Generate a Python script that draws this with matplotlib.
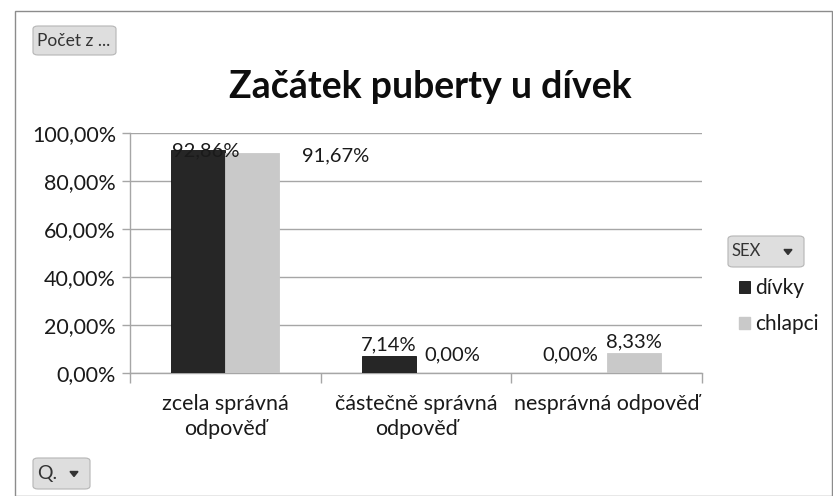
import matplotlib
matplotlib.use("Agg")
import matplotlib.pyplot as plt
from matplotlib.patches import FancyBboxPatch, Rectangle, Patch
import numpy as np

# ---- data ----
categories = ["zcela správná\nodpověď", "částečně správná\nodpověď", "nesprávná odpověď"]
series_names = ["dívky", "chlapci"]
divky = [92.86, 7.14, 0.00]
chlapci = [91.67, 0.00, 8.33]
y_ticks = [0, 20, 40, 60, 80, 100]
y_tick_labels = ["0,00%", "20,00%", "40,00%", "60,00%", "80,00%", "100,00%"]
title = "Začátek puberty u dívek"

# ---- style ----
FONT = ["Lato", "DejaVu Sans"]
plt.rcParams["font.family"] = FONT
DARK = "#262626"
LIGHT = "#c9c9c9"
GRID = "#a6a6a6"
TXT = "#1a1a1a"

W, H = 833, 496
fig = plt.figure(figsize=(W / 100, H / 100), dpi=100)

def fx(px):
    return px / W

def fy(py):
    return 1 - py / H

# outer frame
fig.patches.append(Rectangle((fx(15.5), fy(495.5)), fx(816), (494 - 9.5) / H, transform=fig.transFigure,
                             fill=False, edgecolor="#8c8c8c", linewidth=1.0))

ax = fig.add_axes([fx(130), fy(373), fx(702 - 130), (373 - 133) / H])

x = np.arange(len(categories))
bw = 0.283
b1 = ax.bar(x - bw / 2, divky, bw, color=DARK, edgecolor="#111111", linewidth=0.6, label=series_names[0], zorder=3)
b2 = ax.bar(x + bw / 2, chlapci, bw, color=LIGHT, edgecolor=LIGHT, linewidth=0.6, label=series_names[1], zorder=3)

ax.set_xlim(-0.5, len(categories) - 0.5)
ax.set_ylim(0, 100)
ax.set_yticks(y_ticks)
ax.set_yticklabels(y_tick_labels, fontsize=15.5, color=TXT)
ax.yaxis.grid(True, color=GRID, linewidth=1.0, zorder=0)
ax.set_axisbelow(True)
ax.tick_params(axis="y", length=6, width=1.0, color=GRID, pad=4)

ax.set_xticks(x)
ax.set_xticklabels(categories, fontsize=15.5, color=TXT, linespacing=1.35)
ax.tick_params(axis="x", length=0, pad=15)
ax.set_xticks(np.arange(len(categories) + 1) - 0.5, minor=True)
ax.tick_params(axis="x", which="minor", length=7, width=1.0, color=GRID)

for s in ["top", "right"]:
    ax.spines[s].set_visible(False)
for s in ["left", "bottom"]:
    ax.spines[s].set_color(GRID)
    ax.spines[s].set_linewidth(1.0)

# data labels (offsets in pixels, Excel-like placement)
def fmt(v):
    return f"{v:.2f}%".replace(".", ",")

label_offsets_px = {
    (0, 0): (7, -9), (0, 1): (83, -11),
    (1, 0): (0, 2), (1, 1): (9, 10),
    (2, 0): (-9, 10), (2, 1): (0, 3),
}
for si, (bars, vals) in enumerate([(b1, divky), (b2, chlapci)]):
    for ci, (bar, v) in enumerate(zip(bars, vals)):
        dx, dy = label_offsets_px[(ci, si)]
        ax.annotate(fmt(v), (bar.get_x() + bar.get_width() / 2, v),
                    xytext=(dx * 0.72, dy * 0.72), textcoords="offset points",
                    ha="center", va="bottom", fontsize=14.5, color=TXT, zorder=5,
                    annotation_clip=False)

fig.text(fx(430), fy(87), title, ha="center", va="center", fontsize=27, fontweight="bold", color="#0d0d0d")

# pivot-chart buttons
def button(x0, y0, x1, y1, text, arrow=False, fs=12.5):
    p = FancyBboxPatch((fx(x0), fy(y1)), fx(x1 - x0), (y1 - y0) / H,
                       boxstyle="round,pad=0,rounding_size=0.006", transform=fig.transFigure,
                       facecolor="#dedede", edgecolor="#b5b5b5", linewidth=0.8)
    fig.patches.append(p)
    fig.text(fx(x0 + 4), fy((y0 + y1) / 2), text, ha="left", va="center", fontsize=fs, color="#333333")
    if arrow:
        ax_a = x1 - 16
        ym = (y0 + y1) / 2
        tri = plt.Polygon([[fx(ax_a - 4), fy(ym - 2)], [fx(ax_a + 4), fy(ym - 2)], [fx(ax_a), fy(ym + 3)]],
                          closed=True, transform=fig.transFigure, color="#333333")
        fig.patches.append(tri)

button(33, 26, 116, 55, "Počet z ...")
button(728, 236, 804, 267, "SEX", arrow=True, fs=12)
button(33, 458, 90, 489, "Q.", arrow=True, fs=14)

# legend
handles = [Patch(facecolor=DARK, edgecolor="#111111", linewidth=0.6), Patch(facecolor=LIGHT, edgecolor=LIGHT)]
fig.legend(handles, series_names, loc="upper left", bbox_to_anchor=(fx(729), fy(268)),
           frameon=False, fontsize=15, handlelength=0.5, handleheight=0.5, handletextpad=0.25,
           labelspacing=0.75, borderpad=0, labelcolor=TXT)

fig.savefig("out.png", dpi=100, facecolor="white")
